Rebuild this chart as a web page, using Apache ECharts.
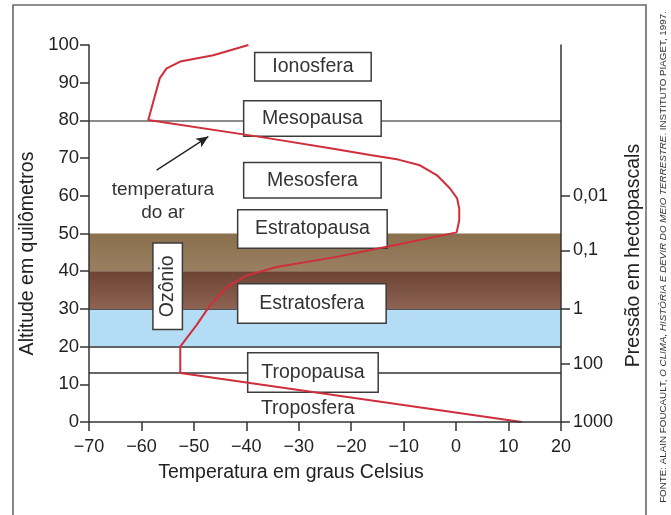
<!DOCTYPE html>
<html>
<head>
<meta charset="utf-8">
<script src="https://cdn.jsdelivr.net/npm/echarts@6/dist/echarts.min.js"></script>
<style>html,body{margin:0;padding:0;background:#fff}#c{width:671px;height:515px}</style>
</head>
<body>
<div id="c"></div>
<script>
// ---- data ----
const curveTemp = [12.5, -52.6, -52.6, -49.5, -46.9, -43.7, -39.9, -34.2, -22.8, -13.2, 0.1, 0.6, 0.6, 0.2, -1.2, -3.7, -6.9, -11, -16.4, -24, -36.8, -58.7, -57.4, -56.5, -55.2, -52.6, -46.3, -39.6];
const curveAlt  = [0, 13, 20, 25.7, 31, 35.8, 38.9, 41.1, 43.8, 46.5, 50.3, 53.5, 56.5, 59.3, 62, 65.5, 68.1, 69.6, 70.8, 72.6, 75.5, 80.1, 86.7, 91.2, 93.8, 95.6, 97.3, 100];
const pressureLabels = ['1000', '100', '1', '0,1', '0,01'];
const pressureAlt = [0, 15.5, 30, 45.5, 60];
const layerNames = ['Ionosfera', 'Mesopausa', 'Mesosfera', 'Estratopausa', 'Estratosfera', 'Tropopausa'];
const bandRanges = [[40, 50], [30, 40], [20, 30]];
const boundaryAlt = [80, 30, 20, 13];
const xTicks = [-70, -60, -50, -40, -30, -20, -10, 0, 10, 20];
const yTicks = [0, 10, 20, 30, 40, 50, 60, 70, 80, 90, 100];

// ---- layout (annotation anchors in data space, box sizes in px) ----
const layerAnchor = [[-27.3, 94.2], [-27.4, 80.5], [-27.4, 64.1], [-27.4, 51.2], [-27.5, 31.4], [-27.3, 13.1]];
const layerBox = [[118, 30], [139, 37], [139, 37], [151, 40], [150, 41], [132, 41]];
const FONT = '"Liberation Sans", Arial, sans-serif';

const chart = echarts.init(document.getElementById('c'));
const curve = curveTemp.map((t, i) => [t, curveAlt[i]]);

const bandColors = [
  new echarts.graphic.LinearGradient(0, 0, 0, 1, [{offset: 0, color: '#8a6f4e'}, {offset: 1, color: '#9a8061'}]),
  new echarts.graphic.LinearGradient(0, 0, 0, 1, [{offset: 0, color: '#6c4335'}, {offset: 1, color: '#8e6352'}]),
  '#b4dcf4'
];
const boundaryStyle = [
  {color: '#666', width: 1.5},
  {color: '#4a5560', width: 1.2},
  {color: '#333', width: 1.6},
  {color: '#333', width: 1.5}
];

const boxPoints = layerNames.map((n, i) => ({
  coord: layerAnchor[i],
  symbolSize: 0,
  label: {
    show: true, position: 'inside', formatter: n,
    width: layerBox[i][0] - 3, height: layerBox[i][1] - 3, lineHeight: layerBox[i][1] - 3,
    backgroundColor: '#fff', borderColor: '#3c3c3c', borderWidth: 1.5,
    align: 'center', verticalAlign: 'middle',
    color: '#333', fontSize: 19.5, fontFamily: FONT
  }
}));
boxPoints.push({
  coord: [-55.0, 36.0], symbolSize: 0,
  label: {
    show: true, position: 'inside', formatter: 'Ozônio', rotate: 90,
    width: 85, height: 28, lineHeight: 28,
    backgroundColor: '#fff', borderColor: '#3c3c3c', borderWidth: 1.5,
    align: 'center', verticalAlign: 'middle',
    color: '#333', fontSize: 19.5, fontFamily: FONT
  }
});
boxPoints.push({
  coord: [-28.3, 3.5], symbolSize: 0,
  label: {show: true, position: 'inside', formatter: 'Troposfera', color: '#333', fontSize: 19.5, fontFamily: FONT}
});
boxPoints.push({
  coord: [-55.9, 58.6], symbolSize: 0,
  label: {show: true, position: 'inside', formatter: 'temperatura\ndo ar', lineHeight: 23, color: '#333', fontSize: 19, fontFamily: FONT}
});

const axisLineStyle = {color: '#333', width: 1.5};

chart.setOption({
  animation: false,
  backgroundColor: '#fff',
  grid: {left: 89, right: 110, top: 45, bottom: 93},
  xAxis: {
    type: 'value', min: -70, max: 20, interval: 10, z: 6,
    axisLine: {show: true, onZero: false, lineStyle: axisLineStyle},
    axisTick: {show: true, length: 9, lineStyle: axisLineStyle},
    splitLine: {show: false},
    axisLabel: {
      margin: 16, color: '#222', fontSize: 18, fontFamily: FONT,
      formatter: v => xTicks.includes(v) ? String(v).replace('-', '\u2212') : ''
    },
    name: 'Temperatura em graus Celsius', nameLocation: 'middle', nameGap: 41,
    nameTextStyle: {color: '#222', fontSize: 19.5, fontFamily: FONT, padding: [0, 68, 0, 0]}
  },
  yAxis: [
    {
      type: 'value', min: 0, max: 100, interval: 10, position: 'left', z: 6,
      axisLine: {show: true, onZero: false, lineStyle: axisLineStyle},
      axisTick: {show: true, length: 9, lineStyle: axisLineStyle},
      splitLine: {show: false},
      axisLabel: {margin: 10, color: '#222', fontSize: 18.5, fontFamily: FONT,
        formatter: v => yTicks.includes(v) ? String(v) : ''},
      name: 'Altitude em quilômetros', nameLocation: 'middle', nameGap: 47,
      nameTextStyle: {color: '#222', fontSize: 19.5, fontFamily: FONT, padding: [0, 40, 0, 0]}
    },
    {
      type: 'value', min: 0, max: 100, position: 'right', z: 6,
      axisLine: {show: true, onZero: false, lineStyle: axisLineStyle},
      axisTick: {show: true, length: 9, lineStyle: axisLineStyle, customValues: pressureAlt},
      splitLine: {show: false},
      axisLabel: {margin: 12, color: '#222', fontSize: 18, fontFamily: FONT, customValues: pressureAlt,
        formatter: v => { const i = pressureAlt.indexOf(v); return i >= 0 ? pressureLabels[i] : ''; }},
      name: 'Pressão em hectopascals', nameLocation: 'middle', nameGap: 58,
      nameTextStyle: {color: '#222', fontSize: 19.5, fontFamily: FONT, padding: [0, 44, 0, 0]}
    }
  ],
  graphic: [
    {type: 'rect', shape: {x: 13, y: 5, width: 633, height: 530}, style: {fill: 'none', stroke: '#6a6a6a', lineWidth: 1.6}, silent: true},
    {
      type: 'text', x: 663.5, y: 257, rotation: Math.PI / 2, silent: true,
      style: {
        text: '{n|FONTE: ALAIN FOUCAULT, }{i|O CLIMA, HISTÓRIA E DEVIR DO MEIO TERRESTRE}{n|. INSTITUTO PIAGET, 1997.}',
        align: 'center', verticalAlign: 'middle',
        rich: {
          n: {fontSize: 9.8, fontFamily: FONT, fill: '#333'},
          i: {fontSize: 9.8, fontFamily: FONT, fontStyle: 'italic', fill: '#333'}
        }
      }
    }
  ],
  series: [
    {
      type: 'line', data: [], z: 1, silent: true,
      markArea: {
        silent: true, z: 1,
        data: bandRanges.map((r, i) => [{yAxis: r[0], itemStyle: {color: bandColors[i]}}, {yAxis: r[1]}])
      },
      markLine: {
        silent: true, z: 2, symbol: 'none', label: {show: false},
        data: boundaryAlt.map((a, i) => ({yAxis: a, lineStyle: {type: 'solid', color: boundaryStyle[i].color, width: boundaryStyle[i].width}}))
      }
    },
    {
      type: 'line', data: [], z: 3, silent: true,
      markPoint: {silent: true, z: 3, symbol: 'circle', data: boxPoints}
    },
    {
      type: 'line', data: curve, z: 5, silent: true, showSymbol: false, symbol: 'none',
      lineStyle: {color: '#cf2e3a', width: 2},
      markLine: {
        silent: true, z: 5, label: {show: false},
        lineStyle: {type: 'solid', color: '#222', width: 1.3},
        data: [[{coord: [-57.1, 66.8], symbol: 'none'}, {coord: [-47.25, 75.7], symbol: 'arrow', symbolSize: [8, 12]}]]
      }
    }
  ]
});
</script>
</body>
</html>
